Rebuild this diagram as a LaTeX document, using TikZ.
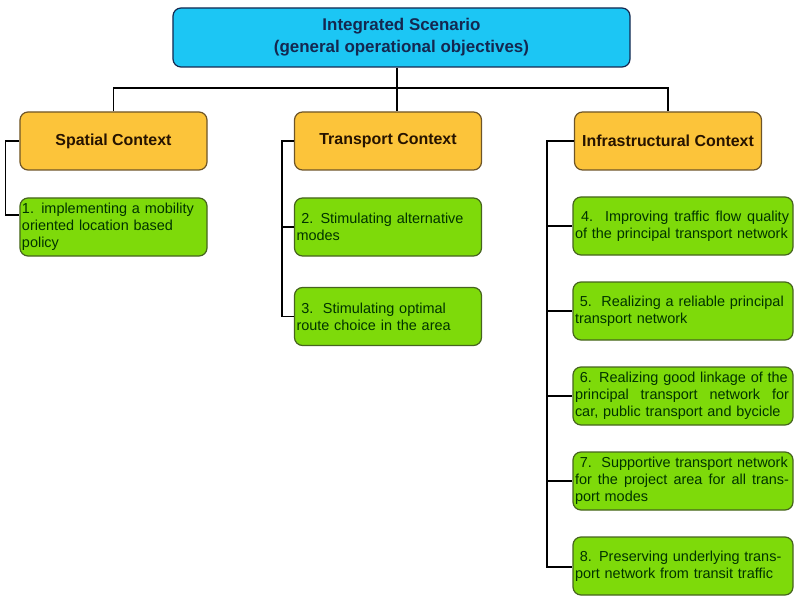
\documentclass[tikz,border=0pt]{standalone}
\usepackage{fontspec}
\setmainfont{Liberation Sans}
\usepackage{xcolor}
\usetikzlibrary{positioning}
\definecolor{skyfill}{RGB}{28,198,244}
\definecolor{skyedge}{RGB}{20,40,80}
\definecolor{orangefill}{RGB}{252,196,58}
\definecolor{orangeedge}{RGB}{110,85,40}
\definecolor{limefill}{RGB}{126,218,10}
\definecolor{limeedge}{RGB}{70,100,30}
\tikzset{scen/.style={rounded corners=8bp,draw=skyedge,fill=skyfill,line width=1.2bp,minimum width=457bp,minimum height=59bp,align=center,font=\bfseries\fontsize{17}{22}\selectfont,text=skyedge}}
\tikzset{ctx/.style={rounded corners=8bp,draw=orangeedge,fill=orangefill,line width=1.2bp,minimum width=187bp,minimum height=58bp,font=\bfseries\fontsize{16}{20}\selectfont,text=black!85!orange}}
\tikzset{obj/.style={rounded corners=8bp,draw=limeedge,fill=limefill,line width=1.2bp,inner sep=2bp,text width=183bp,minimum height=58bp,align=left,font=\fontsize{14.5}{17}\selectfont,text=black!80!green}}
\tikzset{objw/.style={obj,text width=216bp}}
\newcommand{\fillline}[1]{\makebox[214bp][s]{\spaceskip=0pt \xspaceskip=0pt #1}}

\begin{document}
\begin{tikzpicture}[x=1bp,y=-1bp,line width=1.6bp]
    \useasboundingbox (0,0) rectangle (795,596);
    \node[scen] (scen) at (401.5,37.5) {Integrated Scenario\\(general operational objectives)};
    \node[ctx] (spatial) at (113.5,141) {Spatial Context};
    \node[ctx] (transport) at (388,141) {Transport Context};
    \node[ctx] (infra) at (668,141) {Infrastructural Context};

    \node[obj] (obj1) at (113.5,227) {1. implementing a mobility\\oriented location based\\policy};
    \node[obj] (obj2) at (388,227) {\ 2. Stimulating alternative\\modes};
    \node[obj] (obj3) at (388,316.5) {\ 3.\ \ Stimulating optimal\\route choice in the area};
    \node[objw] (obj4) at (683,226) {\fillline{\ 4.\ \ Improving traffic flow quality}\\of the principal transport network};
    \node[objw] (obj5) at (683,311) {\ 5.\ \ Realizing a reliable principal\\transport network};
    \node[objw] (obj6) at (683,396) {\ 6. Realizing good linkage of the\\\fillline{principal transport network for}\\car, public transport and bycicle};
    \node[objw] (obj7) at (683,481) {\ 7.\ \ Supportive transport network\\\fillline{for the project area for all trans-}\\port modes};
    \node[objw] (obj8) at (683,566) {\ 8. Preserving underlying trans-\\port network from transit traffic};

    \coordinate (bus) at (397,88);
    \coordinate (tspine) at (282,141);
    \coordinate (ispine) at (547,141);

    \draw [] (scen.south -| bus) -- (transport.north -| bus);
    \draw [] (spatial.north) |- (bus) -| (infra.north);
    \draw [] (spatial.west) -- ++(-14,0) |- ([yshift=12bp]obj1.west);
    \draw [] (transport.west) -- (tspine) |- (obj3.west);
    \draw [] (tspine |- obj2.west) -- (obj2.west);
    \draw [] (infra.west) -- (ispine) |- ([yshift=-1bp]obj8.west);
    \foreach \n in {4,...,7}
        \draw [] (ispine |- obj\n.west) -- (obj\n.west);
\end{tikzpicture}
\end{document}
